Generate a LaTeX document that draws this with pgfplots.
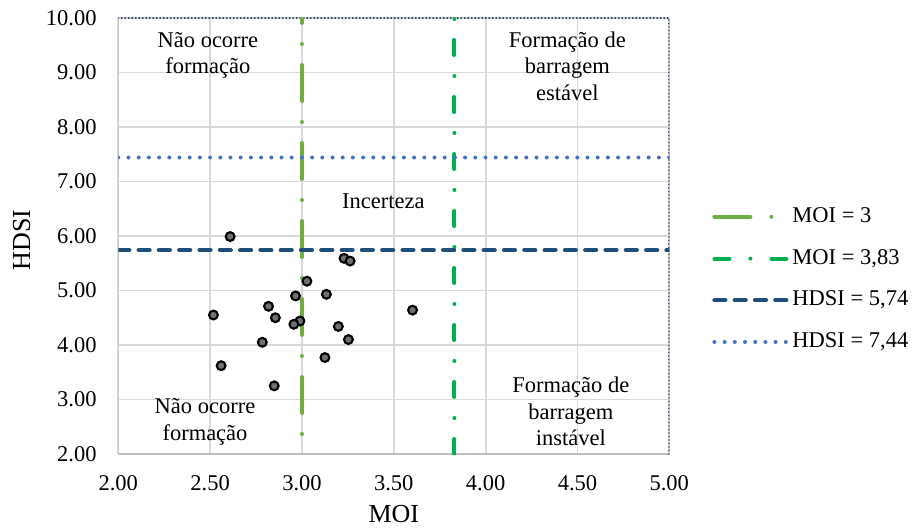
\documentclass[border=0pt]{standalone}
\usepackage{fontspec}
\setmainfont{Liberation Serif}
\usepackage{pgfplots}
\pgfplotsset{compat=1.18}
\definecolor{gA}{HTML}{70AD47}
\definecolor{gB}{HTML}{00B050}
\definecolor{bD}{HTML}{1F4E79}
\definecolor{bL}{HTML}{4472C4}
\definecolor{navy}{HTML}{203864}
\definecolor{gridc}{HTML}{D9D9D9}
\definecolor{axc}{HTML}{BFBFBF}
\definecolor{mk}{HTML}{707070}
\begin{document}
\begin{tikzpicture}[font=\fontsize{22.5bp}{26.5bp}\selectfont]
\begin{axis}[
  scale only axis, width=551bp, height=436bp,
  xmin=2, xmax=5, ymin=2, ymax=10,
  xtick={2,2.5,3,3.5,4,4.5,5},
  ytick={2,3,4,5,6,7,8,9,10},
  grid=major, grid style={gridc, line width=1.8bp},
  major tick length=0pt,
  axis line style={draw=none},
  tick label style={font=\fontsize{22.5bp}{26.5bp}\selectfont,
    /pgf/number format/fixed, /pgf/number format/fixed zerofill,
    /pgf/number format/precision=2, /pgf/number format/assume math mode=true},
  xticklabel style={anchor=north, inner sep=0pt, yshift=-21.5bp},
  yticklabel style={anchor=east, inner sep=0pt, xshift=-21.5bp},
  xlabel={MOI}, ylabel={HDSI},
  every axis x label/.style={at={(axis description cs:0.5,0)}, anchor=center, inner sep=0pt, yshift=-60bp, font=\fontsize{26bp}{30bp}\selectfont},
  every axis y label/.style={at={([xshift=-96.6bp,yshift=-4bp]axis description cs:0,0.5)}, rotate=90, anchor=center, inner sep=0pt, font=\fontsize{26bp}{30bp}\selectfont},
  legend style={draw=none, fill=none, at={(1.078,0.568)}, anchor=north west,
    inner sep=0pt, outer sep=0pt, row sep=20.7bp, column sep=4bp,
    nodes={inner sep=0pt, text height=16bp, text depth=5bp},
    font=\fontsize{22.5bp}{26.5bp}\selectfont},
  legend cell align=left,
  legend image code/.code={\draw[#1, dash phase=0bp] (0bp,0bp) -- (72bp,0bp);},
]
% plot area borders
\draw[axc, line width=1.5bp] (rel axis cs:0,1) -- (rel axis cs:0,0) -- (rel axis cs:1,0);
\draw[navy, line width=2.2bp, line cap=round, dash pattern=on 0bp off 3.5bp] (rel axis cs:0,1) -- (rel axis cs:1,1) -- (rel axis cs:1,0);

\addplot[gA, line width=4bp, line cap=round, dash pattern=on 36bp off 21bp on 0bp off 21bp, dash phase=31bp] coordinates {(3,10) (3,2)};
\addlegendentry{MOI = 3}
\addplot[gB, line width=4bp, line cap=round, dash pattern=on 15bp off 21bp on 0bp off 21bp] coordinates {(3.83,2) (3.83,10)};
\addlegendentry{MOI = 3,83}
\addplot[bD, line width=4.2bp, line cap=round, dash pattern=on 11bp off 9.3bp] coordinates {(2,5.74) (5,5.74)};
\addlegendentry{HDSI = 5,74}
\addplot[bL, line width=4bp, line cap=round, dash pattern=on 0bp off 10.2bp] coordinates {(2,7.44) (5,7.44)};
\addlegendentry{HDSI = 7,44}

\addplot[only marks, mark=*, mark size=4.4bp, mark options={draw=black, fill=mk, line width=2.1bp}, forget plot] table {
x y
2.609 5.99
3.229 5.59
3.262 5.54
3.027 5.17
3.133 4.93
2.965 4.90
2.818 4.71
2.518 4.55
3.602 4.64
2.855 4.50
2.989 4.44
2.956 4.38
3.198 4.34
3.253 4.10
2.784 4.05
3.125 3.77
2.560 3.62
2.849 3.25
};

\node[align=center, anchor=north, inner sep=0pt] at (axis cs:2.488,9.743) {Não ocorre\\formação};
\node[align=center, anchor=north, inner sep=0pt] at (axis cs:4.445,9.749) {Formação de\\barragem\\estável};
\node[align=center, anchor=north, inner sep=0pt] at (axis cs:3.443,6.783) {Incerteza};
\node[align=center, anchor=north, inner sep=0pt] at (axis cs:2.472,3.022) {Não ocorre\\formação};
\node[align=center, anchor=north, inner sep=0pt] at (axis cs:4.464,3.413) {Formação de\\barragem\\instável};

\coordinate (bbSW) at (rel axis cs:0,0);
\end{axis}
\pgfresetboundingbox
\path ([shift={(-118.3bp,-74bp)}]bbSW) rectangle ([shift={(798.7bp,454bp)}]bbSW);
\end{tikzpicture}
\end{document}
